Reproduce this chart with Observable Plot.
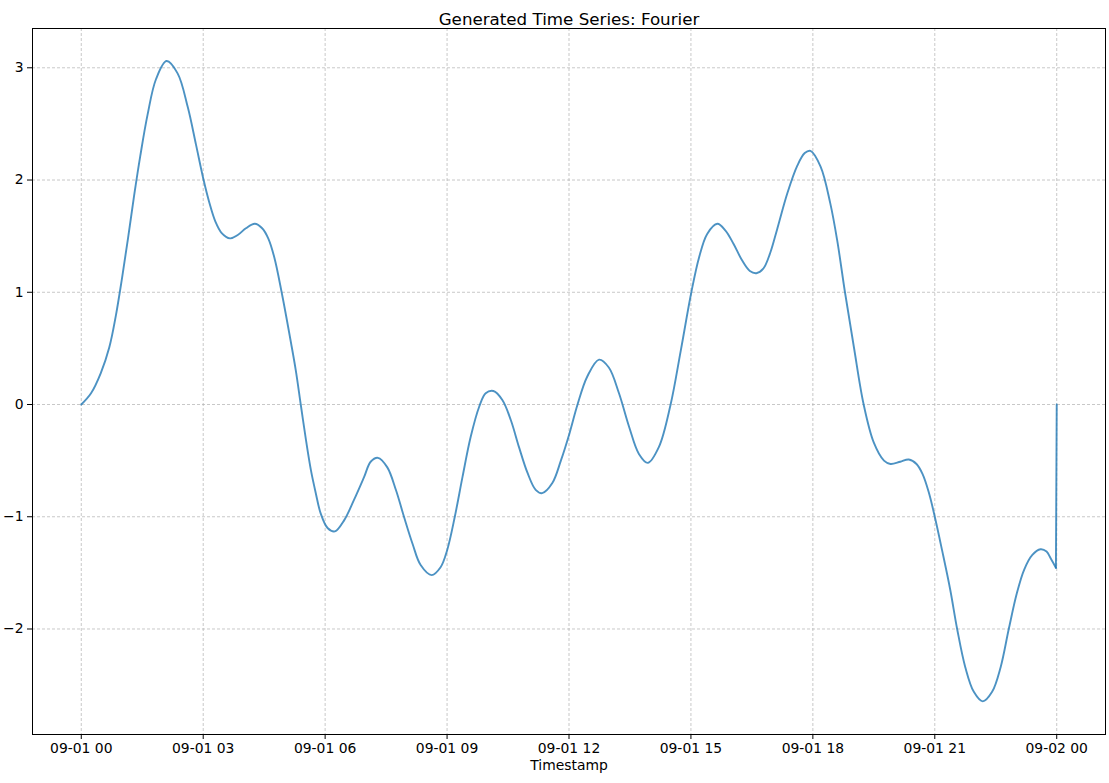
<!DOCTYPE html>
<html>
<head>
<meta charset="utf-8">
<script src="https://cdn.jsdelivr.net/npm/d3@7"></script>
<script src="https://cdn.jsdelivr.net/npm/@observablehq/plot@0.6"></script>
<style>
  html, body { margin: 0; padding: 0; background: #fff; }
  #chart svg { display: block; }
</style>
</head>
<body>
<div id="chart"></div>
<script>
const title = "Generated Time Series: Fourier";
const xLabel = "Timestamp";

// hours after 2024-09-01 00:00
const hours = [
  0.00, 0.24, 0.48, 0.69, 0.85, 1.00, 1.15, 1.30, 1.45, 1.63, 1.84, 2.10, 2.37,
  2.62, 2.82, 3.01, 3.15, 3.30, 3.45, 3.66, 3.85, 4.05, 4.27, 4.45, 4.60, 4.75, 4.93,
  5.16, 5.28, 5.40, 5.53, 5.65, 5.77, 5.89, 6.06, 6.24, 6.47, 6.71, 6.96, 7.12, 7.30,
  7.53, 7.74, 7.94, 8.15, 8.35, 8.62, 8.84, 9.00, 9.19, 9.38, 9.58, 9.79, 9.95, 10.14,
  10.36, 10.57, 10.77, 10.98, 11.18, 11.34, 11.59, 11.80, 12.01, 12.21, 12.45, 12.74,
  12.98, 13.23, 13.48, 13.72, 13.94, 14.21, 14.50, 14.75, 15.01, 15.20, 15.40, 15.65,
  15.85, 16.05, 16.25, 16.45, 16.61, 16.78, 16.95, 17.12, 17.37, 17.62, 17.80, 17.94,
  18.19, 18.43, 18.60, 18.79, 19.01, 19.25, 19.50, 19.75, 19.91, 20.15, 20.36, 20.55,
  20.70, 20.85, 21.00, 21.18, 21.38, 21.55, 21.75, 21.96, 22.18, 22.41, 22.62, 22.82,
  23.02, 23.20, 23.40, 23.60, 23.75, 23.85, 23.98, 24.00
];
const values = [
  0.00, 0.10, 0.28, 0.51, 0.79, 1.12, 1.48, 1.86, 2.21, 2.58, 2.90, 3.06, 2.95,
  2.65, 2.32, 2.00, 1.80, 1.63, 1.53, 1.48, 1.51, 1.57, 1.61, 1.57, 1.48, 1.31, 1.00,
  0.55, 0.30, 0.00, -0.32, -0.585, -0.79, -0.97, -1.10, -1.13, -1.03, -0.85, -0.645, -0.51, -0.475,
  -0.56, -0.76, -1.00, -1.24, -1.43, -1.52, -1.45, -1.30, -1.00, -0.645, -0.29, -0.02, 0.10, 0.12,
  0.04, -0.14, -0.38, -0.61, -0.76, -0.79, -0.70, -0.50, -0.26, 0.00, 0.25, 0.40,
  0.33, 0.10, -0.20, -0.44, -0.52, -0.38, 0.00, 0.48, 1.00, 1.31, 1.52, 1.61,
  1.55, 1.43, 1.29, 1.19, 1.17, 1.21, 1.35, 1.56, 1.88, 2.13, 2.24, 2.26,
  2.12, 1.79, 1.46, 1.00, 0.51, 0.00, -0.34, -0.50, -0.53, -0.51, -0.49, -0.53,
  -0.62, -0.78, -1.00, -1.30, -1.65, -2.00, -2.34, -2.56, -2.645, -2.56, -2.34, -2.00,
  -1.68, -1.47, -1.34, -1.29, -1.31, -1.37, -1.455, 0.00
];
const xTickHours = [0, 3, 6, 9, 12, 15, 18, 21, 24];
const yTicks = [-2, -1, 0, 1, 2, 3];

const t0 = Date.UTC(2024, 8, 1, 0, 0, 0);
const toDate = h => new Date(t0 + h * 3600e3);
const data = hours.map((h, i) => ({t: toDate(h), v: values[i]}));
const xTicks = xTickHours.map(toDate);
const smoothPart = data.slice(0, -1);   // smooth wave
const endPart = data.slice(-2);         // final jump back to 0

const fmt = d3.utcFormat("%m-%d %H");
const yFmt = d => (d < 0 ? "\u2212" : "") + Math.abs(d);
const grid = {stroke: "#b0b0b0", strokeOpacity: 1, strokeWidth: 0.7, strokeDasharray: "3,2"};
const lineStyle = {x: "t", y: "v", stroke: "#1f77b4", strokeOpacity: 0.8, strokeWidth: 1.9};

const chart = Plot.plot({
  width: 1109,
  height: 783,
  marginTop: 28,
  marginLeft: 32,
  marginRight: 4,
  marginBottom: 49,
  style: {fontFamily: "DejaVu Sans", fontSize: "13.9px", color: "#000", background: "#fff"},
  x: {type: "utc", domain: [toDate(-1.2), toDate(25.2)]},
  y: {domain: [-2.94, 3.35]},
  marks: [
    Plot.gridX(xTicks, grid),
    Plot.gridY(yTicks, grid),
    Plot.line(smoothPart, {...lineStyle, curve: "catmull-rom"}),
    Plot.line(endPart, {...lineStyle, curve: "linear"}),
    Plot.frame({stroke: "#000", strokeWidth: 1}),
    Plot.axisX(xTicks, {tickFormat: fmt, tickSize: 5, tickPadding: 4, label: null, fontSize: 13.9}),
    Plot.axisY(yTicks, {tickFormat: yFmt, tickSize: 5, tickPadding: 4, label: null, fontSize: 13.9}),
    Plot.text([title], {frameAnchor: "top", dy: -15, fontSize: 16.7, fill: "#000"}),
    Plot.text([xLabel], {frameAnchor: "bottom", dy: 35, fontSize: 13.9, fill: "#000"})
  ]
});
document.getElementById("chart").appendChild(chart);
</script>
</body>
</html>
